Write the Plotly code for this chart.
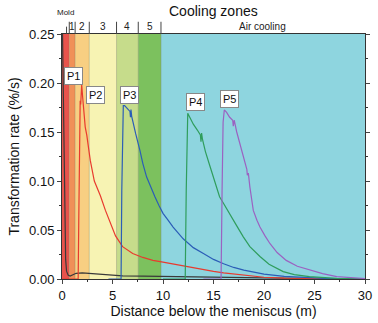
import plotly.graph_objects as go

# ---- data ----
zone_edges = [0, 0.72, 1.3, 2.7, 5.4, 7.55, 9.8, 30]
zone_labels = ["Mold", "1", "2", "3", "4", "5", "Air cooling"]
zone_colors = ["#e8534c", "#f09058", "#f8cf82", "#f7f3b3", "#c6dc8b", "#7cc15e", "#8ed5df"]

black_x = [0.05, 0.12, 0.2, 0.28, 0.36, 0.45, 0.6, 0.8, 1.0, 1.4, 2.0, 2.8, 4.0, 5.0, 6.0, 8.0, 10.0, 12.0, 14.0, 15.0, 17.0, 20.0, 25.0, 30.0]
black_y = [0.25, 0.2, 0.12, 0.05, 0.02, 0.008, 0.004, 0.003, 0.0042, 0.0058, 0.0062, 0.0055, 0.0046, 0.004, 0.0032, 0.0029, 0.0026, 0.0023, 0.002, 0.0018, 0.0012, 0.0008, 0.0004, 0.0002]

red_x = [0.0, 1.6, 1.66, 1.7, 1.75, 1.8, 1.85, 1.9, 1.95, 2.05, 2.15, 2.3, 2.45, 2.6, 2.8, 3.2, 3.8, 4.3, 4.8, 5.3, 6.0, 7.0, 8.0, 9.0, 10.0, 11.0, 12.0, 13.0, 14.0, 15.0, 16.0, 17.0, 18.0, 19.0, 20.0, 22.0, 25.0, 30.0]
red_y = [0.0, 0.0, 0.06, 0.13, 0.176, 0.182, 0.178, 0.19, 0.198, 0.185, 0.17, 0.155, 0.147, 0.136, 0.121, 0.1, 0.085, 0.07, 0.057, 0.044, 0.033, 0.026, 0.022, 0.019, 0.0172, 0.0152, 0.0132, 0.0112, 0.0094, 0.0078, 0.0063, 0.005, 0.0038, 0.0027, 0.0018, 0.0009, 0.0003, 0.0]

blue_x = [4.6, 5.85, 5.92, 6.0, 6.07, 6.2, 6.4, 6.6, 6.73, 6.78, 6.83, 6.9, 7.03, 7.3, 7.72, 8.0, 8.38, 8.8, 9.2, 9.6, 10.0, 10.5, 11.0, 12.0, 13.0, 14.0, 15.0, 16.0, 17.0, 18.0, 19.0, 20.0, 22.0, 24.0, 26.0, 28.0, 30.0]
blue_y = [0.0, 0.0, 0.09, 0.165, 0.177, 0.177, 0.175, 0.173, 0.171, 0.165, 0.173, 0.166, 0.159, 0.148, 0.131, 0.118, 0.104, 0.093, 0.084, 0.075, 0.067, 0.06, 0.053, 0.041, 0.032, 0.026, 0.02, 0.0155, 0.0118, 0.009, 0.0068, 0.005, 0.0027, 0.0014, 0.0007, 0.0003, 0.0001]

green_x = [10.0, 12.2, 12.3, 12.38, 12.45, 12.7, 13.0, 13.4, 13.7, 13.76, 13.82, 13.9, 14.2, 14.65, 15.0, 15.3, 15.6, 16.0, 16.6, 17.2, 17.95, 18.6, 19.6, 20.5, 21.9, 23.0, 24.5, 26.0, 27.2, 29.0, 30.0]
green_y = [0.0, 0.0, 0.09, 0.155, 0.169, 0.164, 0.158, 0.152, 0.147, 0.140, 0.149, 0.143, 0.13, 0.115, 0.104, 0.093, 0.084, 0.077, 0.067, 0.056, 0.043, 0.033, 0.023, 0.015, 0.0075, 0.0045, 0.0024, 0.0013, 0.0007, 0.0002, 0.0001]

purple_x = [14.0, 15.75, 15.85, 15.95, 16.07, 16.3, 16.6, 16.9, 16.96, 17.05, 17.3, 17.6, 17.95, 18.3, 18.35, 18.45, 18.6, 18.94, 19.3, 19.6, 20.1, 20.6, 21.3, 22.2, 23.3, 24.5, 25.8, 27.2, 28.5, 30.0]
purple_y = [0.0, 0.0, 0.09, 0.16, 0.1725, 0.17, 0.165, 0.162, 0.156, 0.162, 0.15, 0.138, 0.124, 0.112, 0.106, 0.108, 0.094, 0.07, 0.06, 0.053, 0.044, 0.036, 0.027, 0.019, 0.013, 0.0092, 0.0055, 0.0024, 0.0012, 0.0005]

peak_labels = ["P1", "P2", "P3", "P4", "P5"]
peak_label_x = [1.1, 3.35, 6.7, 13.2, 16.6]
peak_label_y = [0.207, 0.188, 0.188, 0.181, 0.184]

x_tick_vals = [0, 5, 10, 15, 20, 25, 30]
y_tick_vals = [0.0, 0.05, 0.10, 0.15, 0.20, 0.25]

FONT = "Liberation Sans, Arial, sans-serif"

fig = go.Figure()

series = [
    (black_x, black_y, "#3a3a3a"),
    (red_x, red_y, "#e83a2e"),
    (blue_x, blue_y, "#2b5db7"),
    (green_x, green_y, "#2f9d5c"),
    (purple_x, purple_y, "#9b62c1"),
]
for xs, ys, col in series:
    fig.add_trace(go.Scatter(x=xs, y=ys, mode="lines",
                             line=dict(color=col, width=1.2),
                             showlegend=False, hoverinfo="skip", cliponaxis=True))

shapes = []
for i in range(len(zone_colors)):
    shapes.append(dict(type="rect", xref="x", yref="paper",
                       x0=zone_edges[i], x1=zone_edges[i + 1], y0=0, y1=1,
                       fillcolor=zone_colors[i], line=dict(width=0), layer="below"))
for e in zone_edges[1:-1]:
    shapes.append(dict(type="line", xref="x", yref="paper", x0=e, x1=e, y0=0, y1=1,
                       line=dict(color="rgba(120,120,80,0.35)", width=1), layer="below"))
    shapes.append(dict(type="line", xref="x", yref="paper", x0=e, x1=e, y0=1, y1=1.05,
                       line=dict(color="#444", width=1)))
shapes.append(dict(type="line", xref="x", yref="paper", x0=0.45, x1=0.45, y0=1, y1=1.03,
                   line=dict(color="#444", width=1)))

annotations = []
# zone labels
for i, lab in enumerate(zone_labels):
    xc = (zone_edges[i] + zone_edges[i + 1]) / 2
    if lab == "Mold":
        annotations.append(dict(x=0.35, y=1.06, xref="x", yref="paper", text=lab,
                                showarrow=False, font=dict(size=8, color="#222", family=FONT),
                                yanchor="bottom", xanchor="center"))
    else:
        annotations.append(dict(x=xc, y=1.0, xref="x", yref="paper", text=lab,
                                showarrow=False, font=dict(size=10, color="#222", family=FONT),
                                yanchor="bottom", xanchor="center"))
annotations.append(dict(x=0.5, y=1.055, xref="paper", yref="paper", text="Cooling zones",
                        showarrow=False, font=dict(size=14, color="#111", family=FONT),
                        yanchor="bottom", xanchor="center"))
for lab, lx, ly in zip(peak_labels, peak_label_x, peak_label_y):
    annotations.append(dict(x=lx, y=ly, xref="x", yref="y", text=lab, showarrow=False,
                            font=dict(size=11, color="#111", family=FONT),
                            bgcolor="white", bordercolor="#888", borderwidth=1, borderpad=2))

fig.update_layout(
    width=378, height=323,
    margin=dict(l=62, r=13, t=34, b=44, autoexpand=False),
    paper_bgcolor="white", plot_bgcolor="white",
    font=dict(family=FONT, size=12, color="#111"),
    shapes=shapes, annotations=annotations,
    xaxis=dict(range=[0, 30], tickvals=x_tick_vals, ticks="outside", ticklen=4,
               automargin=False,
               showgrid=False, zeroline=False, showline=True, linecolor="#333", mirror=True,
               minor=dict(ticks="outside", dtick=2.5, ticklen=2, tickcolor="#333"),
               tickfont=dict(size=13, family=FONT),
               title=dict(text="Distance below the meniscus (m)", font=dict(size=14, family=FONT), standoff=4)),
    yaxis=dict(range=[0, 0.25], tickvals=y_tick_vals, tickformat=".2f", ticks="outside", ticklen=4,
               automargin=False,
               showgrid=False, zeroline=False, showline=True, linecolor="#333", mirror="ticks",
               minor=dict(ticks="outside", dtick=0.025, ticklen=2, tickcolor="#333"),
               tickfont=dict(size=13, family=FONT),
               title=dict(text="Transformation rate (%/s)", font=dict(size=14, family=FONT), standoff=6)),
)

fig.write_html("out.html")
